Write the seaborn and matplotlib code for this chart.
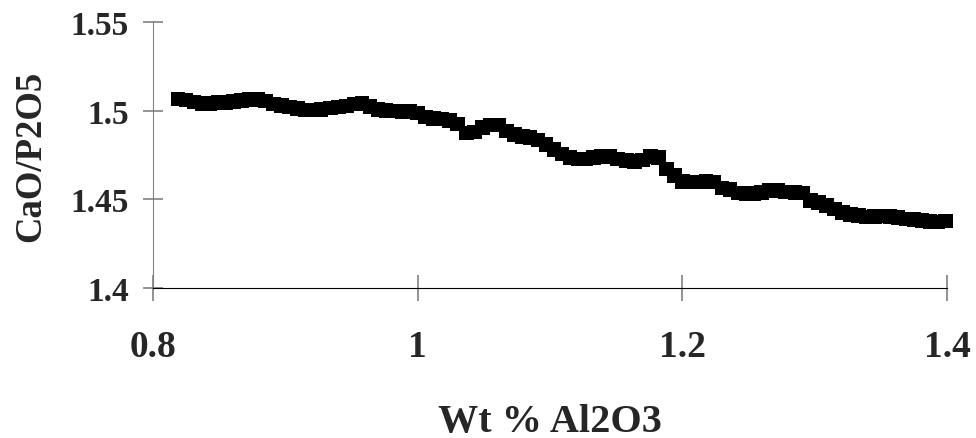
import pandas as pd
import seaborn as sns
import matplotlib.pyplot as plt

# values
al2o3 = [0.819, 0.825, 0.831, 0.837, 0.843, 0.849, 0.855, 0.861, 0.867, 0.873,
         0.879, 0.885, 0.891, 0.897, 0.903, 0.909, 0.915, 0.921, 0.927, 0.934,
         0.940, 0.946, 0.952, 0.958, 0.964, 0.970, 0.976, 0.982, 0.988, 0.994,
         1.000, 1.006, 1.012, 1.018, 1.024, 1.030, 1.037, 1.043, 1.049, 1.055,
         1.061, 1.067, 1.073, 1.079, 1.085, 1.091, 1.097, 1.103, 1.109, 1.115,
         1.121, 1.127, 1.133, 1.139, 1.145, 1.151, 1.158, 1.164, 1.170, 1.176,
         1.182, 1.188, 1.194, 1.200, 1.206, 1.212, 1.218, 1.224, 1.230, 1.236,
         1.242, 1.248, 1.254, 1.260, 1.266, 1.272, 1.278, 1.285, 1.291, 1.297,
         1.303, 1.309, 1.315, 1.321, 1.327, 1.333, 1.339, 1.345, 1.351, 1.357,
         1.363, 1.369, 1.375, 1.381, 1.387, 1.393, 1.399]
ratio = [1.5066, 1.5060, 1.5050, 1.5042, 1.5040, 1.5046, 1.5045, 1.5052, 1.5058, 1.5062,
         1.5064, 1.5055, 1.5038, 1.5028, 1.5020, 1.5012, 1.5004, 1.5004, 1.5008, 1.5015,
         1.5020, 1.5026, 1.5038, 1.5042, 1.5025, 1.5005, 1.5000, 1.4998, 1.4996, 1.4996,
         1.4986, 1.4965, 1.4955, 1.4952, 1.4945, 1.4925, 1.4875, 1.4880, 1.4905, 1.4920,
         1.4918, 1.4885, 1.4865, 1.4855, 1.4848, 1.4835, 1.4808, 1.4780, 1.4755, 1.4735,
         1.4728, 1.4728, 1.4735, 1.4743, 1.4740, 1.4728, 1.4718, 1.4712, 1.4722, 1.4740,
         1.4735, 1.4670, 1.4635, 1.4600, 1.4598, 1.4598, 1.4600, 1.4598, 1.4565, 1.4555,
         1.4535, 1.4532, 1.4532, 1.4540, 1.4550, 1.4550, 1.4542, 1.4540, 1.4535, 1.4495,
         1.4482, 1.4466, 1.4445, 1.4425, 1.4415, 1.4408, 1.4400, 1.4402, 1.4405, 1.4403,
         1.4398, 1.4388, 1.4385, 1.4380, 1.4374, 1.4372, 1.4378]

x_ticks = [0.8, 1.0, 1.2, 1.4]
x_labels = ['0.8', '1', '1.2', '1.4']
y_ticks = [1.4, 1.45, 1.5, 1.55]
y_labels = ['1.4', '1.45', '1.5', '1.55']

df = pd.DataFrame({'Al2O3': al2o3, 'ratio': ratio})

sns.set_style('ticks')
plt.rcParams['font.family'] = ['Liberation Serif', 'DejaVu Serif']
plt.rcParams['font.weight'] = 'bold'

fig = plt.figure(figsize=(9.76, 4.39), dpi=100)
ax = fig.add_axes([0.1568, 0.3417, 0.8135, 0.6059])

sns.scatterplot(data=df, x='Al2O3', y='ratio', marker='s', s=110, color='black',
                edgecolor='none', linewidth=0, ax=ax, clip_on=False, zorder=3)

ax.set_xlim(0.8, 1.4)
ax.set_ylim(1.4, 1.55)
ax.set_xticks(x_ticks)
ax.set_xticklabels(x_labels, fontsize=27, fontweight='bold')
ax.set_yticks(y_ticks)
ax.set_yticklabels(y_labels, fontsize=24, fontweight='bold')

ax.spines['top'].set_visible(False)
ax.spines['right'].set_visible(False)
ax.spines['left'].set_color('#808080')
ax.spines['bottom'].set_color('black')
ax.tick_params(axis='y', direction='inout', length=15, width=1.2, color='#808080', pad=10)
ax.tick_params(axis='x', direction='inout', length=19, width=1.2, color='#808080', pad=20)

ax.set_xlabel('Wt % Al2O3', fontsize=29, fontweight='bold', labelpad=28)
ax.set_ylabel('CaO/P2O5', fontsize=26.5, fontweight='bold', labelpad=16)

fig.savefig('out.png', dpi=100)
